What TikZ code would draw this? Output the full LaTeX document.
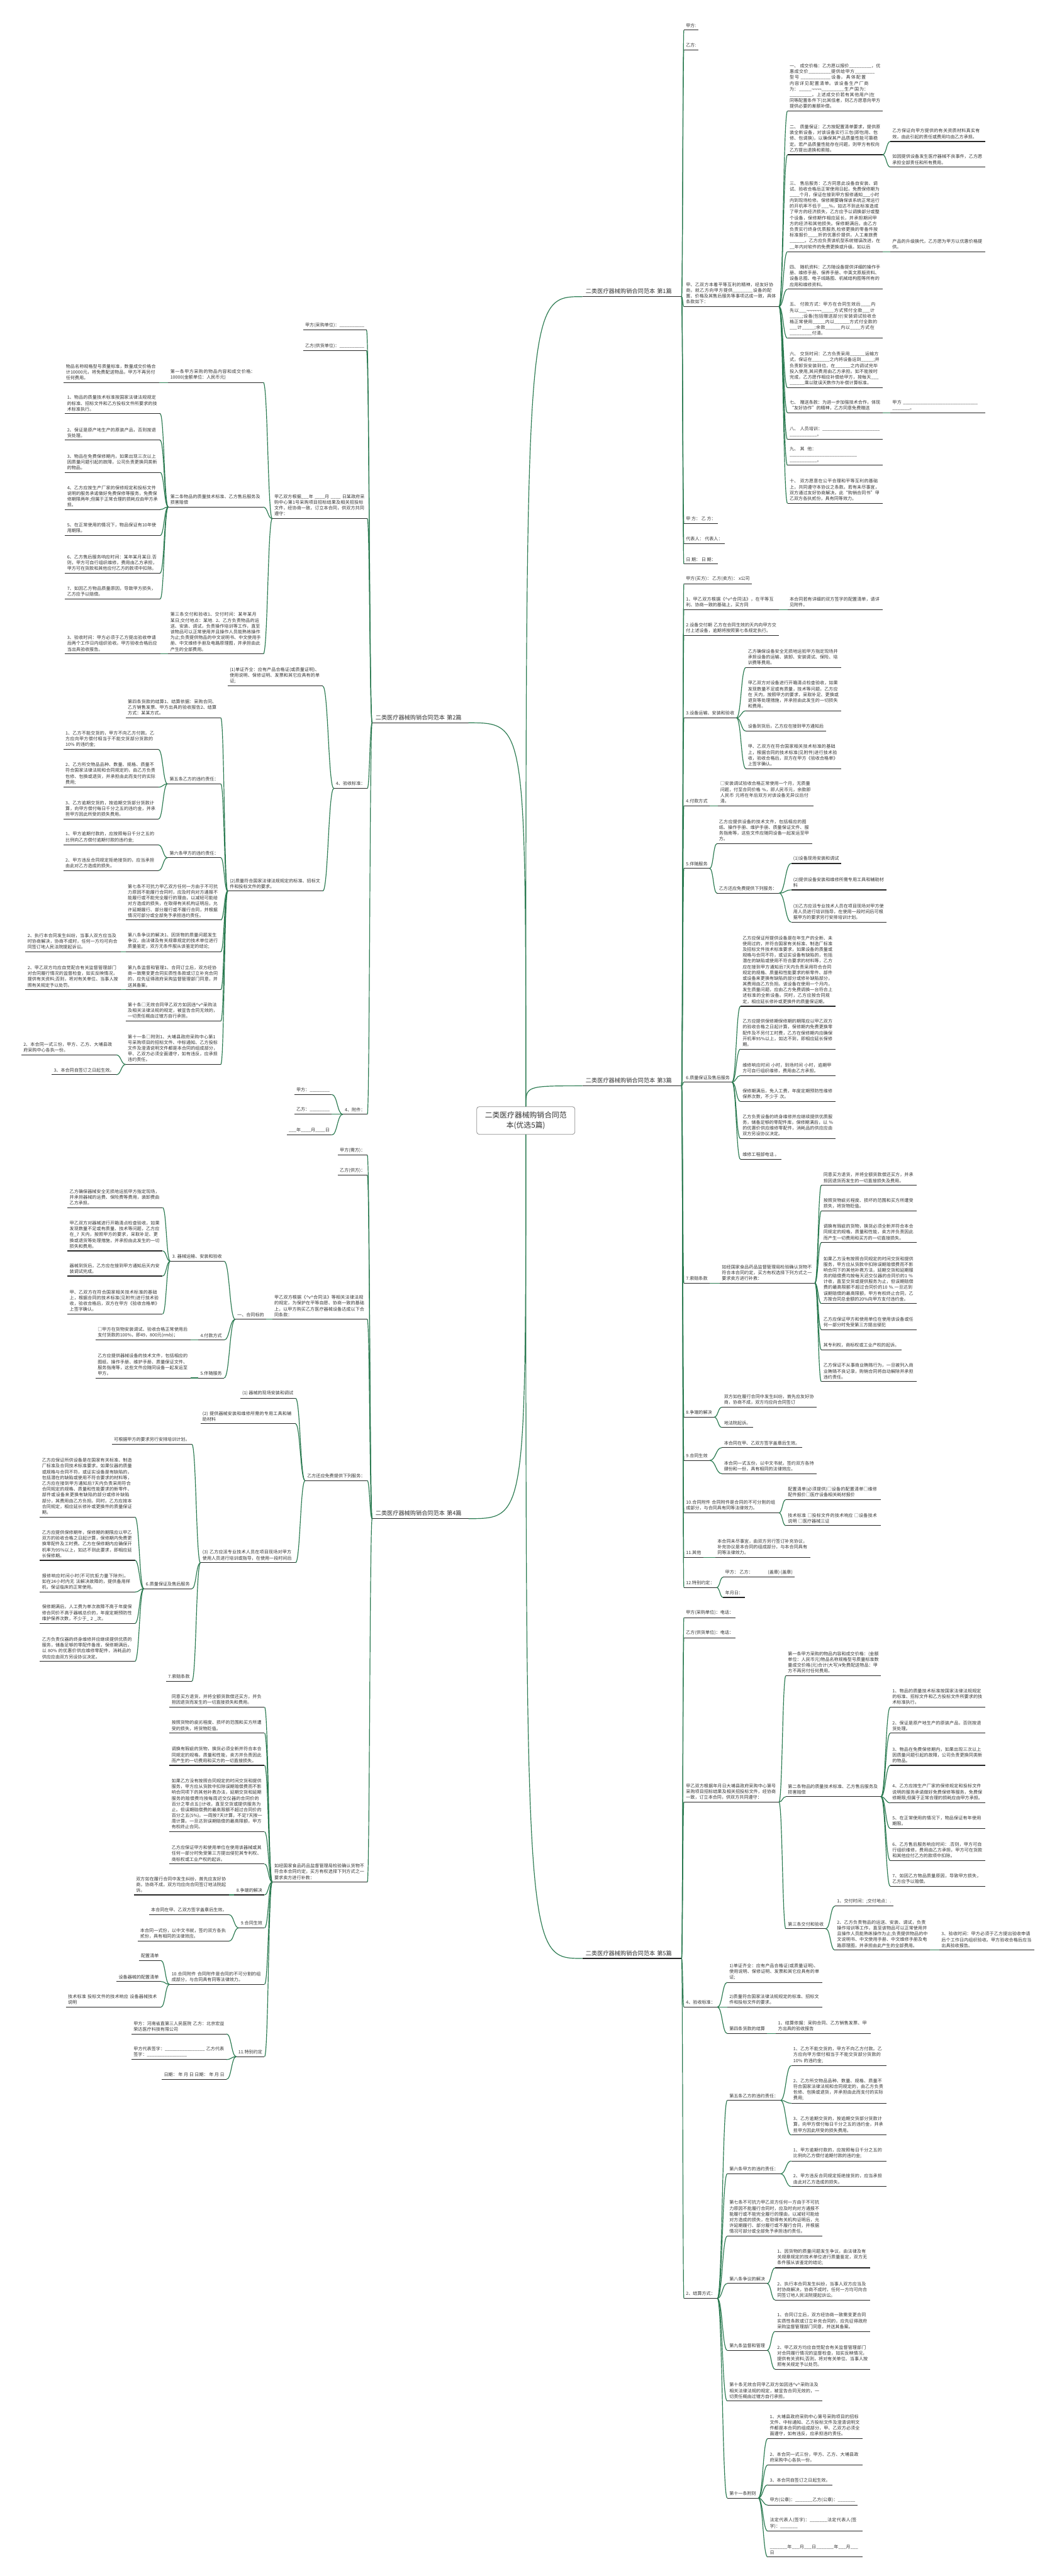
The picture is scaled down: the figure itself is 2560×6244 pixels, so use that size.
\documentclass[tikz,border=0pt]{standalone}
\usepackage{fontspec}
\setmainfont{Noto Sans CJK SC}
\XeTeXlinebreaklocale "zh"
\XeTeXlinebreakskip=0pt plus 1pt
\usetikzlibrary{calc}
\definecolor{linkgreen}{HTML}{2A7A50}
\definecolor{ulgray}{HTML}{262626}
\definecolor{txt}{HTML}{333333}
\definecolor{rootline}{HTML}{8C8C8C}
% connectors between underline ends
\newcommand{\rlink}[2]{\draw[link] let \p1=(#1.south east), \p2=(#2.south west) in (\p1) .. controls ({0.5*\x1+0.5*\x2},\y1) and ({0.5*\x1+0.5*\x2},\y2) .. (\p2);}
\newcommand{\llink}[2]{\draw[link] let \p1=(#1.south west), \p2=(#2.south east) in (\p1) .. controls ({0.5*\x1+0.5*\x2},\y1) and ({0.5*\x1+0.5*\x2},\y2) .. (\p2);}

\begin{document}
\catcode`\_=12
\begin{tikzpicture}[x=1pt, y=-1pt,
    leaf/.style={anchor=south west, inner xsep=5pt, inner ysep=6pt, align=left, text=txt,
      font=\fontsize{10.8}{14}\selectfont,
      append after command={(\tikzlastnode.south west) edge[uline] (\tikzlastnode.south east)}},
    lleaf/.style={leaf, anchor=south east},
    std/.style={text width=220pt},
    tw/.style={text width=#1pt},
    topic/.style={leaf, inner xsep=8pt, font=\fontsize{14}{17}\selectfont},
    uline/.style={draw=ulgray, line width=1.6pt},
    link/.style={draw=linkgreen, line width=1.8pt},
    root/.style={draw=rootline, line width=1.2pt, rounded corners=6pt, fill=white, text=txt,
      align=center, minimum width=238pt, minimum height=67pt, font=\fontsize{18}{24}\selectfont}]
  \useasboundingbox (0,0) rectangle (2560,6244);
  \fill[white] (0,0) rectangle (2560,6244);

  \node[root] (root) at (1274,2716) {二类医疗器械购销合同范\\本(优选5篇)};

  % ---------- 第1篇 ----------
  \node[topic, tw=224] (b1) at (1411,719) {二类医疗器械购销合同范本 第1篇};
  \node[leaf] (b1a) at (1657,73) {甲方:};
  \node[leaf] (b1b) at (1657,121) {乙方:};
  \node[leaf, std] (b1c) at (1657,743) {甲、乙双方本着平等互利的精神，经友好协商，就乙方向甲方提供________设备的配置、价格及其售后服务等事项达成一致，具体条款如下：};
  \node[leaf, std] (b1c1) at (1908,269) {一、 成交价格：乙方愿以报价_________，优惠成交价_________提供给甲方________型号 ____________设备，具体配置内容详见配置清单。该设备生产厂商为：_____¬¬¬¬_________生产国为：_________。上述成交价若有其他用户(在同等配置条件下)比其低者，则乙方愿意向甲方提供必要的差额补偿。};
  \node[leaf, std] (b1c2) at (1908,375) {二、 质量保证：乙方按配置清单要求，提供原装全新设备，对该设备实行三包(即包用、包修、包调换)，以确保其产品质量性能可靠稳定。若产品质量性能存在问题，则甲方有权向乙方提出退换和索赔。};
  \node[leaf, std] (b1c2a) at (2157,343) {乙方保证向甲方提供的有关资质材料真实有效，由此引起的责任或费用均由乙方承担。};
  \node[leaf, std] (b1c2b) at (2157,405) {如因提供设备发生医疗器械不良事件，乙方愿承担全部责任和所有费用。};
  \node[leaf, std] (b1c3) at (1908,610) {三、 售后服务：乙方同意此设备自安装、调试、验收合格后正常使用日起，免费保修期为____个月，保证在接到甲方报修通知___小时内到现场检修。保修期要确保该系统正常运行的开机率不低于___\%，如达不到此标准造成了甲方的经济损失，乙方应予以调换部分或整个设备，保修期作相应延长，并承担期间甲方的经济和其他损失。保修期满后，由乙方负责实行终身优质服务,检修更换的零备件按标准报价____折的优惠价提供，人工差旅费______。乙方应负责该机型系统错误改进，在__年内对软件的免费更换或升级。如以后};
  \node[leaf, std] (b1c3a) at (2157,610) {产品的升级换代，乙方愿为甲方以优惠价格提供。};
  \node[leaf, std] (b1c4) at (1908,701) {四、 随机资料：乙方随设备提供详细的操作手册、维修手册、保养手册、中英文原版资料、设备总图、电子线路图、机械结构图等所有的应用和维修资料。};
  \node[leaf, std] (b1c5) at (1908,820) {五、 付款方式：甲方在合同生效后____内先以___¬¬¬¬¬¬_____方式预付全款___计_____;设备(包括赠送部分)安装调试验收合格正常使用_____内以______方式付全款的___计_____;余款______内以____方式在_________付清。};
  \node[leaf, std] (b1c6) at (1908,940) {六、 交货时间：乙方负责采用______运输方式，保证在_______之内将设备运到_____;并负责卸货安装到位，在______之内调试完毕投入使用,其间费用由乙方承担。如不能按时完成，乙方愿作相应补偿给甲方，按每天___ ______乘以耽误天数作为补偿计算标准。};
  \node[leaf, std] (b1c7) at (1908,1001) {七、 赠送条款：为进一步加强技术合作，体现“友好协作”的精神，乙方同意免费赠送};
  \node[leaf, std] (b1c7a) at (2157,1001) {甲方 ______________________________ _______。};
  \node[leaf, std] (b1c8) at (1908,1065) {八、 人员培训：_______________________ ___________。};
  \node[leaf, std] (b1c9) at (1908,1128) {九、 其他：___________________________ ___________。};
  \node[leaf, std] (b1c10) at (1908,1220) {十、 双方愿意在公平合理和平等互利的基础上，共同遵守本协议之条款。若有未尽事宜，双方通过友好协商解决。此“购销合同书”甲乙双方各执贰份，具有同等效力。};
  \node[leaf] (b1d) at (1657,1269) {甲 方：~乙 方：};
  \node[leaf] (b1e) at (1657,1318) {代表人：~代表人：};
  \node[leaf] (b1f) at (1657,1367) {日 期：~日 期：};

  % ---------- 第3篇 ----------
  \node[topic, tw=224] (b3) at (1411,2632) {二类医疗器械购销合同范本 第3篇};
  \node[leaf] (b3a) at (1657,1415) {甲方(买方)：~乙方(卖方)：~x公司};
  \node[leaf, std] (b3b) at (1657,1478) {1、甲乙双方根据《\textasciicircum v\textasciicircum 合同法》，在平等互利、协商一致的基础上，买方同};
  \node[leaf, std] (b3b1) at (1908,1478) {本合同若有详细的双方签字的配置清单，请详见附件。};
  \node[leaf, std] (b3c) at (1657,1540) {2.设备交付期 乙方在合同生效的天内向甲方交付上述设备，逾期将按照第七条规定执行。};
  \node[leaf] (b3d) at (1657,1740) {3.设备运输、安装和验收};
  \node[leaf, std] (b3d1) at (1807,1618) {乙方确保设备安全无损地运抵甲方指定现场并承担设备的运输、装卸、安装调试、保险、培训费等费用。};
  \node[leaf, std] (b3d2) at (1807,1723) {甲乙双方对设备进行开箱清点检查验收，如果发现数量不足或有质量，技术等问题，乙方应在 天内，按照甲方的要求，采取补足、更换或退货等处理措施，并承担由此发生的一切损失和费用。};
  \node[leaf] (b3d3) at (1807,1772) {设备到货后，乙方应在接到甲方通知后};
  \node[leaf, std] (b3d4) at (1807,1863) {甲、乙双方在符合国家相关技术标准的基础上，根据合同的技术标准(见附件)进行技术验收，验收合格后，双方在甲方《验收合格单》上签字确认。};
  \node[leaf] (b3e) at (1657,1953) {4.付款方式};
  \node[leaf, std] (b3e1) at (1740,1953) {□安装调试验收合格正常使用一个月，无质量问题，付至合同价格 \%，即人民币元，余款即人民币 元将在年后双方对该设备无异议后付清。};
  \node[leaf] (b3f) at (1657,2105) {5.伴随服务};
  \node[leaf, std] (b3f1) at (1737,2045) {乙方应提供设备的技术文件，包括相应的图纸、操作手册、维护手册、质量保证文件、服务指南等，这些文件应随同设备一起发运至甲方。};
  \node[leaf] (b3f2) at (1737,2165) {乙方还应免费提供下列服务：};
  \node[leaf] (b3f2a) at (1917,2093) {(1)设备现场安装和调试};
  \node[leaf, std] (b3f2b) at (1917,2157) {(2)提供设备安装和维修所需专用工具和辅助材料};
  \node[leaf, std] (b3f2c) at (1917,2235) {(3)乙方应派专业技术人员在项目现场对甲方使用人员进行培训指导，在使用一段时间后可根据甲方的要求另行安排培训计划。};
  \node[leaf] (b3g) at (1657,2623) {6.质量保证及售后服务};
  \node[leaf, std] (b3g1) at (1794,2439) {乙方应保证所提供设备是在年生产的全新、未使用过的，并符合国家有关标准、制造厂标准及招标文件技术标准要求，如果设备的质量或规格与合同不符，或证实设备有缺陷的，包括潜在的缺陷或使用不符合要求的材料等，乙方应在接到甲方通知后7天内负责采用符合合同规定的规格、质量和性能要求的新零件、部件或设备来更换有缺陷的部分或修补缺陷部分，其费用由乙方负担。该设备在使用一个月内，发生质量问题，应由乙方免费调换一台符合上述标准的全新设备。同时，乙方应按合同规定，相应延长修补或更换件的质量保证期。};
  \node[leaf, std] (b3g2) at (1794,2543) {乙方应提供保修期保修期的期限应以甲乙双方的验收合格之日起计算，保修期内免费更换零配件及不另付工时费，乙方在保修期内应确保开机率95\%以上，如达不到，即相应延长保修期。};
  \node[leaf, std] (b3g3) at (1794,2607) {维修响应时间 小时，到场时间 小时，逾期甲方可自行组织维修，费用由乙方承担。};
  \node[leaf, std] (b3g4) at (1794,2670) {保修期满后，免人工费，年度定期预防性维修保养次数，不少于 次。};
  \node[leaf, std] (b3g5) at (1794,2760) {乙方负责设备的终身维修并应继续提供优质服务，储备足够的零配件库，保修期满后，以 \%的优惠价供应维修零配件，消耗品的供应应由双方另设协议决定。};
  \node[leaf] (b3g6) at (1794,2810) {维修工程部电话 。};
  \node[leaf] (b3h) at (1657,3110) {7.索赔条款};
  \node[leaf, std] (b3h1) at (1744,3110) {如经国家食品药品监督管理局检验确认货物不符合本合同约定，买方有权选择下列方式之一要求卖方进行补救：};
  \node[leaf, std] (b3h1a) at (1990,2873) {同意买方退货，并将全额货款偿还买方，并承担因退货而发生的一切直接损失及费用。};
  \node[leaf, std] (b3h1b) at (1990,2935) {按照货物疵劣程度、损坏的范围和买方所遭受损失，将货物贬值。};
  \node[leaf, std] (b3h1c) at (1990,3012) {调换有瑕疵的货物，换货必须全新并符合本合同规定的规格，质量和性能，卖方并负责因此而产生一切费用和买方的一切直接损失。};
  \node[leaf, std] (b3h1d) at (1990,3160) {如果乙方没有按照合同规定的时间交货和提供服务，甲方应从货款中扣除误期赔偿费而不影响合同下的其他补救方法，延期交货和延期服务的赔偿费均按每天迟交仪器的合同价的1 \%计收，直至交货或提供服务为止，但误期赔偿费的最高限额不超过合同价的10 \%.一旦达到误期赔偿的最高限额，甲方有权终止合同，乙方按合同总金额的20\%向甲方支付违约金。};
  \node[leaf, std] (b3h1e) at (1990,3223) {乙方应保证甲方和使用单位在使用该设备或任何一部分时免受第三方提出侵犯};
  \node[leaf] (b3h1f) at (1990,3272) {其专利权，商标权或工业产权的起诉。};
  \node[leaf, std] (b3h1g) at (1990,3349) {乙方保证不从事商业贿赂行为，一旦被列入商业贿赂不良记录，购销合同将自动解除并承担违约责任。};
  \node[leaf] (b3i) at (1657,3435) {8.争端的解决};
  \node[leaf, std] (b3i1) at (1749,3411) {双方如在履行合同中发生纠纷，首先应友好协商，协商不成，双方均应向合同签订};
  \node[leaf] (b3i2) at (1749,3460) {地法院起诉。};
  \node[leaf] (b3j) at (1657,3540) {9.合同生效};
  \node[leaf] (b3j1) at (1749,3509) {本合同在甲、乙双方签字盖章后生效。};
  \node[leaf, std] (b3j2) at (1749,3572) {本合同一式五份，以中文书就，签约双方各持肆份和一份，具有相同的法律效应。};
  \node[leaf, std] (b3k) at (1657,3667) {10.合同附件 合同附件是合同的不可分割的组成部分，与合同具有同等法律效力。};
  \node[leaf, std] (b3k1) at (1904,3635) {配置清单(必须提供)□设备的配置清单□维修配件报价□医疗设备相关耗材报价};
  \node[leaf, std] (b3k2) at (1904,3698) {技术标准 □投标文件的技术响应 □设备技术说明 □医疗器械三证};
  \node[leaf] (b3l) at (1657,3775) {11.其他};
  \node[leaf, std] (b3l1) at (1733,3775) {本合同未尽事宜，由双方另行签订补充协议，补充协议是本合同的组成部分，与本合同具有同等法律效力。};
  \node[leaf] (b3m) at (1657,3848) {12.特别约定：};
  \node[leaf] (b3m1) at (1752,3823) {甲方：~乙方：\hspace{36pt}(盖章) (盖章)};
  \node[leaf] (b3m2) at (1752,3872) {年月日：};

  % ---------- 第5篇 ----------
  \node[topic, tw=224] (b5) at (1411,4747) {二类医疗器械购销合同范本 第5篇};
  \node[leaf] (b5a) at (1657,3921) {甲方(采购单位)：电话：};
  \node[leaf] (b5b) at (1657,3970) {乙方(供货单位)：电话：};
  \node[leaf, std] (b5c) at (1657,4368) {甲乙双方根据年月日大埔县政府采购中心第号采购项目招标结果及相关招投标文件，经协商一致，订立本合同，供双方共同遵守：};
  \node[leaf, std] (b5c1) at (1904,4062) {第一条甲方采购的物品内容和成交价格：(金额单位：人民币元)物品名称规格型号质量标准数量成交价格(元)合计(大写)¥免费配送物品：甲方不再另付任何费用。};
  \node[leaf, std] (b5c2) at (1904,4355) {第二条物品的质量技术标准、乙方售后服务及损害赔偿};
  \node[leaf, std] (b5c2a) at (2157,4138) {1、物品的质量技术标准按国家法律法规规定的标准、招标文件和乙方投标文件所要求的技术标准执行。};
  \node[leaf, std] (b5c2b) at (2157,4201) {2、保证是原产地生产的原装产品，否则按退货处理。};
  \node[leaf, std] (b5c2c) at (2157,4279) {3、物品在免费保修期内，如果出现三次以上因质量问题引起的故障，公司负责更换同类新的物品。};
  \node[leaf, std] (b5c2d) at (2157,4370) {4、乙方应按生产厂家的保修规定和投标文件说明的服务承诺做好免费保修等服务，免费保修期限;但属于正常合理的损耗应由甲方承担。};
  \node[leaf, std] (b5c2e) at (2157,4432) {5、在正常使用的情况下，物品保证有年使用期限。};
  \node[leaf, std] (b5c2f) at (2157,4510) {6、乙方售后服务响应时间：.否则，甲方可自行组织维修，费用由乙方承担，甲方可在货款和其他应付乙方的款项中扣除。};
  \node[leaf, std] (b5c2g) at (2157,4572) {7、如因乙方物品质量原因，导致甲方损失，乙方应予以赔偿。};
  \node[leaf] (b5c3) at (1904,4675) {第三条交付和验收};
  \node[leaf] (b5c3a) at (2023,4620) {1、交付时间：;交付地点：.};
  \node[leaf, std] (b5c3b) at (2023,4727) {2、乙方负责物品的运送、安装、调试，负责操作培训等工作，直至该物品可以正常使用并且操作人员能熟练操作为止;负责提供物品的中文说明书、中文使用手册、中文维修手册及电路原理图，并承担由此产生的全部费用。};
  \node[leaf, std] (b5c3b1) at (2276,4727) {3、验收时间：甲方必须于乙方提出验收申请后个工作日内组织验收。甲方验收合格后应当出具验收报告。};
  \node[leaf] (b5d) at (1657,4865) {4、验收标准：};
  \node[leaf, std] (b5d1) at (1762,4805) {1)单证齐全：应有产品合格证(或质量证明)、使用说明、保修证明、发票和其它应具有的单证;};
  \node[leaf, std] (b5d2) at (1762,4865) {2)质量符合国家法律法规规定的标准、招标文件和投标文件的要求。};
  \node[leaf] (b5d3) at (1762,4929) {第四条货款的结算};
  \node[leaf, std] (b5d3a) at (1880,4929) {1、结算依据：采购合同、乙方销售发票、甲方出具的验收报告};
  \node[leaf] (b5e) at (1657,5571) {2、结算方式：};
  \node[leaf] (b5e1) at (1762,5091) {第五条乙方的违约责任：};
  \node[leaf, std] (b5e1a) at (1917,5007) {1、乙方不能交货的，甲方不向乙方付款。乙方应向甲方偿付相当于不能交货部分货款的10\% 的违约金;};
  \node[leaf, std] (b5e1b) at (1917,5098) {2、乙方所交物品品种、数量、规格、质量不符合国家法律法规和合同规定的，由乙方负责包修、包换或退货，并承担由此而支付的实际费用;};
  \node[leaf, std] (b5e1c) at (1917,5175) {3、乙方逾期交货的，按逾期交货部分货款计算，向甲方偿付每日千分之五的违约金，并承担甲方因此所受的损失费用。};
  \node[leaf] (b5e2) at (1762,5269) {第六条甲方的违约责任：};
  \node[leaf, std] (b5e2a) at (1917,5238) {1、甲方逾期付款的，应按照每日千分之五的比例向乙方偿付逾期付款的违约金;};
  \node[leaf, std] (b5e2b) at (1917,5300) {2、甲方违反合同规定拒绝接货的，应当承担由此对乙方造成的损失。};
  \node[leaf, std] (b5e3) at (1762,5420) {第七条不可抗力甲乙双方任何一方由于不可抗力原因不能履行合同时，应及时向对方通报不能履行或不能完全履行的理由，以减轻可能给对方造成的损失，在取得有关机构证明后，允许延期履行、部分履行或不履行合同，并根据情况可部分或全部免予承担违约责任。};
  \node[leaf] (b5e4) at (1762,5535) {第八条争议的解决};
  \node[leaf, std] (b5e4a) at (1878,5497) {1、因货物的质量问题发生争议，由法律及有关规章规定的技术单位进行质量鉴定，双方无条件服从该鉴定的结论;};
  \node[leaf, std] (b5e4b) at (1878,5575) {2、执行本合同发生纠纷，当事人双方应当及时协商解决，协商不成时，任何一方均可向合同签订地人民法院提起诉讼。};
  \node[leaf] (b5e5) at (1762,5697) {第九条监督和管理};
  \node[leaf, std] (b5e5a) at (1878,5651) {1、合同订立后，双方经协商一致需变更合同实质性条款或订立补充合同的，应先征得政府采购监督管理部门同意，并送其备案。};
  \node[leaf, std] (b5e5b) at (1878,5743) {2、甲乙双方均应自觉配合有关监督管理部门对合同履行情况的监督检查，如实反映情况，提供有关资料;否则，将对有关单位、当事人按照有关规定予以处罚。};
  \node[leaf, std] (b5e6) at (1762,5820) {第十条无效合同甲乙双方如因违\textasciicircum v\textasciicircum 采购法及相关法律法规的规定，被宣告合同无效的，一切责任概由过错方自行承担。};
  \node[leaf] (b5e7) at (1762,6055) {第十一条附则};
  \node[leaf, std] (b5e7a) at (1860,5911) {1、大埔县政府采购中心第号采购项目的招标文件、中标通知、乙方投标文件及澄清说明文件都是本合同的组成部分，甲、乙双方必须全面遵守，如有违反，应承担违约责任。};
  \node[leaf, std] (b5e7b) at (1860,5975) {2、本合同一式三份，甲方、乙方、大埔县政府采购中心各执一份。};
  \node[leaf] (b5e7c) at (1860,6023) {3、本合同自签订之日起生效。};
  \node[leaf] (b5e7d) at (1860,6072) {甲方(公章)：_______乙方(公章)：_______};
  \node[leaf, std] (b5e7e) at (1860,6135) {法定代表人(签字)：_______法定代表人(签字)：_______};
  \node[leaf, std] (b5e7f) at (1860,6198) {_______年___月___日_______年___月___日};

  % ---------- 第2篇 ----------
  \node[topic, anchor=south east, tw=217] (b2) at (1135,1752) {二类医疗器械购销合同范本 第2篇};
  \node[lleaf] (b2x1) at (888,800) {甲方(采购单位)：__________};
  \node[lleaf] (b2x2) at (888,850) {乙方(供货单位)：__________};
  \node[lleaf, std] (b2a) at (890,1257) {甲乙双方根据___年 ____月 ____ 日某政府采购中心第1号采购项目招标结果及相关招投标文件，经协商一致，订立本合同，供双方共同遵守：};
  \node[lleaf, std] (b2a1) at (638,927) {第一条甲方采购的物品内容和成交价格：10000(金额单位：人民币元)};
  \node[lleaf, std] (b2a1a) at (385,927) {物品名称规格型号质量标准，数量成交价格合计10000元，将免费配送物品，甲方不再另付任何费用。};
  \node[lleaf, std] (b2a2) at (638,1229) {第二条物品的质量技术标准、乙方售后服务及损害赔偿};
  \node[lleaf, std] (b2a2a) at (388,1003) {1、物品的质量技术标准按国家法律法规规定的标准、招标文件和乙方投标文件所要求的技术标准执行。};
  \node[lleaf, std] (b2a2b) at (388,1067) {2、保证是原产地生产的原装产品，否则按退货处理。};
  \node[lleaf, std] (b2a2c) at (388,1145) {3、物品在免费保修期内，如果出现三次以上因质量问题引起的故障，公司负责更换同类新的物品。};
  \node[lleaf, std] (b2a2d) at (388,1235) {4、乙方应按生产厂家的保修规定和投标文件说明的服务承诺做好免费保修等服务，免费保修期限两年;但属于正常合理的损耗应由甲方承担。};
  \node[lleaf, std] (b2a2e) at (388,1298) {5、在正常使用的情况下，物品保证有10年使用期限。};
  \node[lleaf, std] (b2a2f) at (388,1389) {6、乙方售后服务响应时间：某年某月某日.否则，甲方可自行组织维修，费用由乙方承担，甲方可在货款和其他应付乙方的款项中扣除。};
  \node[lleaf, std] (b2a2g) at (388,1452) {7、如因乙方物品质量原因，导致甲方损失，乙方应予以赔偿。};
  \node[lleaf, std] (b2a3) at (638,1585) {第三条交付和验收1、交付时间：某年某月某日;交付地点：某地. 2、乙方负责物品的运送、安装、调试，负责操作培训等工作，直至该物品可以正常使用并且操作人员能熟练操作为止;负责提供物品的中文说明书、中文使用手册、中文维修手册及电路原理图，并承担由此产生的全部费用。};
  \node[lleaf, std] (b2a3a) at (388,1585) {3、验收时间：甲方必须于乙方提出验收申请后两个工作日内组织验收。甲方验收合格后应当出具验收报告。};
  \node[lleaf] (b2b) at (890,1911) {4、验收标准：};
  \node[lleaf, std] (b2b1) at (782,1663) {(1)单证齐全：应有产品合格证(或质量证明)、使用说明、保修证明、发票和其它应具有的单证;};
  \node[lleaf, std] (b2b2) at (782,2160) {(2)质量符合国家法律法规规定的标准、招标文件和投标文件的要求。};
  \node[lleaf, std] (b2b2a) at (535,1740) {第四条货款的结算1、结算依据：采购合同、乙方销售发票、甲方出具的验收报告2、结算方式：某某方式。};
  \node[lleaf] (b2b2b) at (535,1900) {第五条乙方的违约责任：};
  \node[lleaf, std] (b2b2b1) at (384,1817) {1、乙方不能交货的，甲方不向乙方付款。乙方应向甲方偿付相当于不能交货部分货款的10\% 的违约金;};
  \node[lleaf, std] (b2b2b2) at (384,1908) {2、乙方所交物品品种、数量、规格、质量不符合国家法律法规和合同规定的，由乙方负责包修、包换或退货，并承担由此而支付的实际费用;};
  \node[lleaf, std] (b2b2b3) at (384,1985) {3、乙方逾期交货的，按逾期交货部分货款计算，向甲方偿付每日千分之五的违约金，并承担甲方因此所受的损失费用。};
  \node[lleaf] (b2b2c) at (535,2079) {第六条甲方的违约责任：};
  \node[lleaf, std] (b2b2c1) at (384,2048) {1、甲方逾期付款的，应按照每日千分之五的比例向乙方偿付逾期付款的违约金;};
  \node[lleaf, std] (b2b2c2) at (384,2110) {2、甲方违反合同规定拒绝接货的，应当承担由此对乙方造成的损失。};
  \node[lleaf, std] (b2b2d) at (535,2230) {第七条不可抗力甲乙双方任何一方由于不可抗力原因不能履行合同时，应及时向对方通报不能履行或不能完全履行的理由，以减轻可能给对方造成的损失，在取得有关机构证明后，允许延期履行、部分履行或不履行合同，并根据情况可部分或全部免予承担违约责任。};
  \node[lleaf, std] (b2b2e) at (535,2307) {第八条争议的解决1、因货物的质量问题发生争议，由法律及有关规章规定的技术单位进行质量鉴定，双方无条件服从该鉴定的结论;};
  \node[lleaf, std] (b2b2e1) at (292,2307) {2、执行本合同发生纠纷，当事人双方应当及时协商解决，协商不成时，任何一方均可向合同签订地人民法院提起诉讼。};
  \node[lleaf, std] (b2b2f) at (535,2399) {第九条监督和管理1、合同订立后，双方经协商一致需变更合同实质性条款或订立补充合同的，应先征得政府采购监督管理部门同意，并送其备案。};
  \node[lleaf, std] (b2b2f1) at (292,2399) {2、甲乙双方均应自觉配合有关监督管理部门对合同履行情况的监督检查，如实反映情况，提供有关资料;否则，将对有关单位、当事人按照有关规定予以处罚。};
  \node[lleaf, std] (b2b2g) at (535,2475) {第十条□无效合同甲乙双方如因违\textasciicircum v\textasciicircum 采购法及相关法律法规的规定，被宣告合同无效的，一切责任概由过错方自行承担。};
  \node[lleaf, std] (b2b2h) at (535,2580) {第十一条□附则1、大埔县政府采购中心第1号采购项目的招标文件、中标通知、乙方投标文件及澄清说明文件都是本合同的组成部分，甲、乙双方必须全面遵守，如有违反，应承担违约责任。};
  \node[lleaf, std] (b2b2h1) at (282,2557) {2、本合同一式三份，甲方、乙方、大埔县政府采购中心各执一份。};
  \node[lleaf] (b2b2h2) at (282,2605) {3、本合同自签订之日起生效。};
  \node[lleaf] (b2c) at (890,2701) {4、附件：};
  \node[lleaf] (b2c1) at (804,2653) {甲方：________};
  \node[lleaf] (b2c2) at (804,2701) {乙方：________};
  \node[lleaf] (b2c3) at (804,2751) {___年____月____日};

  % ---------- 第4篇 ----------
  \node[topic, anchor=south east, tw=217] (b4) at (1135,3681) {二类医疗器械购销合同范本 第4篇};
  \node[lleaf] (b4a) at (890,2800) {甲方(需方)：};
  \node[lleaf] (b4b) at (890,2849) {乙方(供方)：};
  \node[lleaf, std] (b4c) at (890,3198) {甲乙双方根据《\textasciicircum v\textasciicircum 合同法》等相关法律法规的规定，为保护在平等自愿、协商一致的基础上，以甲方购买乙方医疗器械设备达成以下合同条款：};
  \node[lleaf] (b4c1) at (645,3198) {一、合同标的};
  \node[lleaf] (b4c1a) at (543,3057) {3. 器械运输、安装和验收};
  \node[lleaf, std] (b4c1a1) at (394,2927) {乙方确保器械安全无损地运抵甲方指定现场，并承担器械的运费、保险费等费用，装卸费由乙方承担。};
  \node[lleaf, std] (b4c1a2) at (394,3032) {甲乙双方对器械进行开箱清点检查验收，如果发现数量不足或有质量、技术等问题，乙方应在_7 天内，按照甲方的要求，采取补足、更换或退货等处理措施，并承担由此发生的一切损失和费用。};
  \node[lleaf, std] (b4c1a3) at (394,3093) {器械到货后，乙方应在接到甲方通知后天内安装调试完成。};
  \node[lleaf, std] (b4c1a4) at (394,3185) {甲、乙双方在符合国家相关技术标准的基础上，根据合同的技术标准(见附件)进行技术验收，验收合格后，双方在甲方《验收合格单》上签字确认。};
  \node[lleaf] (b4c1b) at (543,3248) {4.付款方式};
  \node[lleaf, std] (b4c1b1) at (462,3248) {□甲方在货物安装调试、验收合格正常使用后支付货款的100\%，即49，800元(rmb)；};
  \node[lleaf] (b4c1c) at (543,3340) {5.伴随服务};
  \node[lleaf, std] (b4c1c1) at (462,3340) {乙方应提供器械设备的技术文件，包括相应的图纸、操作手册、维护手册、质量保证文件、服务指南等，这些文件应随同设备一起发运至甲方。};
  \node[lleaf] (b4d) at (890,3589) {乙方还应免费提供下列服务：};
  \node[lleaf] (b4d1) at (716,3389) {(1) 器械的现场安装和调试};
  \node[lleaf, std] (b4d2) at (716,3451) {(2) 提供器械安装和维修所需的专用工具和辅助材料};
  \node[lleaf, std] (b4d3) at (716,3788) {(3) 乙方应派专业技术人员在项目现场对甲方使用人员进行培训或指导，在使用一段时间后};
  \node[lleaf] (b4d3a) at (465,3501) {可根据甲方的要求另行安排培训计划。};
  \node[lleaf] (b4d3b) at (465,3851) {6.质量保证及售后服务};
  \node[lleaf, std] (b4d3b1) at (327,3677) {乙方应保证所供设备是在国家有关标准、制造厂标准及合同技术标准要求。如果仪器的质量或规格与合同不符，或证实设备是有缺陷的，包括潜在的缺陷或使用不符合要求的材料等，乙方应在接到甲方通知后7天内负责采用符合合同规定的规格、质量和性能要求的新零件、部件或设备来更换有缺陷的部分或修补缺陷部分，其费用由乙方负担。同时，乙方应按本合同规定，相应延长修补或更换件的质量保证期。};
  \node[lleaf, std] (b4d3b2) at (327,3782) {乙方应提供保修期年，保修期的期限应以甲乙双方的验收合格之日起计算，保修期内免费更换零配件及工时费。乙方在保修期内应确保开机率为95\%以上，如达不到此要求，即相应延长保修期。};
  \node[lleaf, std] (b4d3b3) at (327,3859) {报修响应时间小时(不可抗拒力量下除外)。如在24小时内无 法解决故障的，提供备用样机，保证临床的正常使用。};
  \node[lleaf, std] (b4d3b4) at (327,3935) {保修期满后，人工费为单次故障不高于年度保修合同价不高于器械总价的，年度定期预防性维护保养次数，不少于_ 2 _次。};
  \node[lleaf, std] (b4d3b5) at (327,4027) {乙方负责仪器的终身维修并应继续提供优质的服务，储备足够的零配件备库，保修期满后，以 80\% 的优惠价供应维修零配件，消耗品的供应应由双方另设协议决定。};
  \node[lleaf] (b4d3c) at (465,4075) {7.索赔条款};
  \node[lleaf, std] (b4e) at (890,4562) {如经国家食品药品监督管理局检验确认货物不符合本合同约定，买方有权选择下列方式之一要求卖方进行补救：};
  \node[lleaf, std] (b4e1) at (641,4138) {同意买方退货，并将全额货款偿还买方，并负担因退货而发生的一切直接损失和费用。};
  \node[lleaf, std] (b4e2) at (641,4201) {按照货物的疵劣程度、损坏的范围和买方所遭受的损失，将货物贬值。};
  \node[lleaf, std] (b4e3) at (641,4279) {调换有瑕疵的货物，换货必须全新并符合本合同规定的规格，质量和性能，卖方并负责因此而产生的一切费用和买方的一切直接损失。};
  \node[lleaf, std] (b4e4) at (641,4440) {如果乙方没有按照合同规定的时间交货和提供服务，甲方应从货款中扣除误期赔偿费而不影响合同项下的其他补救办法，延期交货和延期服务的赔偿费均按每周迟交仪器的合同价的百分之零点五()计收，直至交货或提供服务为止。但误期赔偿费的最高限额不超过合同价的百分之五(5\%)。一周按7天计算，不足7天按一周计算。一旦达到误期赔偿的最高限额，甲方有权终止合同。};
  \node[lleaf, std] (b4e5) at (641,4518) {乙方应保证甲方和使用单位在使用该器械或其任何一部分时免受第三方提出侵犯其专利权、商标权或工业产权的起诉。};
  \node[lleaf] (b4e6) at (641,4593) {8.争端的解决};
  \node[lleaf, std] (b4e6a) at (555,4593) {双方如在履行合同中发生纠纷，首先应友好协商，协商不成，双方均应向合同签订地法院起诉。};
  \node[lleaf] (b4e7) at (641,4673) {9.合同生效};
  \node[lleaf] (b4e7a) at (555,4641) {本合同在甲、乙双方签字盖章后生效。};
  \node[lleaf, tw=210] (b4e7b) at (555,4705) {本合同一式份，以中文书就，签约双方各执贰份，具有相同的法律效应。};
  \node[lleaf, std] (b4e8) at (641,4810) {10.合同附件 合同附件是合同的不可分割的组成部分，与合同具有同等法律效力。};
  \node[lleaf] (b4e8a) at (390,4752) {配置清单};
  \node[lleaf] (b4e8b) at (390,4803) {设备器械的配置清单};
  \node[lleaf, std] (b4e8c) at (390,4865) {技术标准 投标文件的技术响应 设备器械技术说明};
  \node[lleaf] (b4e9) at (641,4985) {11.特别约定};
  \node[lleaf, std] (b4e9a) at (549,4930) {甲方：河南省直第三人民医院 乙方：北京宏益荣达医疗科技有限公司};
  \node[lleaf, std] (b4e9b) at (549,4992) {甲方代表签字：________________ 乙方代表签字：________________};
  \node[lleaf] (b4e9c) at (549,5040) {日期：~年 月 日 日期：~年 月 日};

  % ---------- connectors ----------
  \draw[link] (root.north) .. controls (root.north |- b1.south west) .. (b1.south west);
  \draw[link] (root.north) .. controls (root.north |- b2.south east) .. (b2.south east);
  \draw[link] (root.north) .. controls (root.north |- b3.south west) .. (b3.south west);
  \draw[link] (root.south) .. controls (root.south |- b4.south east) .. (b4.south east);
  \draw[link] (root.south) .. controls (root.south |- b5.south west) .. (b5.south west);

  \rlink{b1}{b1a} \rlink{b1}{b1b} \rlink{b1}{b1c} \rlink{b1}{b1d} \rlink{b1}{b1e} \rlink{b1}{b1f}
  \rlink{b1c}{b1c1} \rlink{b1c}{b1c2} \rlink{b1c}{b1c3} \rlink{b1c}{b1c4} \rlink{b1c}{b1c5}
  \rlink{b1c}{b1c6} \rlink{b1c}{b1c7} \rlink{b1c}{b1c8} \rlink{b1c}{b1c9} \rlink{b1c}{b1c10}
  \rlink{b1c2}{b1c2a} \rlink{b1c2}{b1c2b} \rlink{b1c3}{b1c3a} \rlink{b1c7}{b1c7a}

  \rlink{b3}{b3a} \rlink{b3}{b3b} \rlink{b3}{b3c} \rlink{b3}{b3d} \rlink{b3}{b3e} \rlink{b3}{b3f} \rlink{b3}{b3g}
  \rlink{b3}{b3h} \rlink{b3}{b3i} \rlink{b3}{b3j} \rlink{b3}{b3k} \rlink{b3}{b3l} \rlink{b3}{b3m}
  \rlink{b3b}{b3b1}
  \rlink{b3d}{b3d1} \rlink{b3d}{b3d2} \rlink{b3d}{b3d3} \rlink{b3d}{b3d4}
  \rlink{b3e}{b3e1} \rlink{b3f}{b3f1} \rlink{b3f}{b3f2}
  \rlink{b3f2}{b3f2a} \rlink{b3f2}{b3f2b} \rlink{b3f2}{b3f2c}
  \rlink{b3g}{b3g1} \rlink{b3g}{b3g2} \rlink{b3g}{b3g3} \rlink{b3g}{b3g4} \rlink{b3g}{b3g5} \rlink{b3g}{b3g6}
  \rlink{b3h}{b3h1}
  \rlink{b3h1}{b3h1a} \rlink{b3h1}{b3h1b} \rlink{b3h1}{b3h1c} \rlink{b3h1}{b3h1d}
  \rlink{b3h1}{b3h1e} \rlink{b3h1}{b3h1f} \rlink{b3h1}{b3h1g}
  \rlink{b3i}{b3i1} \rlink{b3i}{b3i2} \rlink{b3j}{b3j1} \rlink{b3j}{b3j2}
  \rlink{b3k}{b3k1} \rlink{b3k}{b3k2} \rlink{b3l}{b3l1} \rlink{b3m}{b3m1} \rlink{b3m}{b3m2}

  \rlink{b5}{b5a} \rlink{b5}{b5b} \rlink{b5}{b5c} \rlink{b5}{b5d} \rlink{b5}{b5e}
  \rlink{b5c}{b5c1} \rlink{b5c}{b5c2} \rlink{b5c}{b5c3}
  \rlink{b5c2}{b5c2a} \rlink{b5c2}{b5c2b} \rlink{b5c2}{b5c2c} \rlink{b5c2}{b5c2d}
  \rlink{b5c2}{b5c2e} \rlink{b5c2}{b5c2f} \rlink{b5c2}{b5c2g}
  \rlink{b5c3}{b5c3a} \rlink{b5c3}{b5c3b} \rlink{b5c3b}{b5c3b1}
  \rlink{b5d}{b5d1} \rlink{b5d}{b5d2} \rlink{b5d}{b5d3} \rlink{b5d3}{b5d3a}
  \rlink{b5e}{b5e1} \rlink{b5e}{b5e2} \rlink{b5e}{b5e3} \rlink{b5e}{b5e4} \rlink{b5e}{b5e5} \rlink{b5e}{b5e6} \rlink{b5e}{b5e7}
  \rlink{b5e1}{b5e1a} \rlink{b5e1}{b5e1b} \rlink{b5e1}{b5e1c}
  \rlink{b5e2}{b5e2a} \rlink{b5e2}{b5e2b}
  \rlink{b5e4}{b5e4a} \rlink{b5e4}{b5e4b} \rlink{b5e5}{b5e5a} \rlink{b5e5}{b5e5b}
  \rlink{b5e7}{b5e7a} \rlink{b5e7}{b5e7b} \rlink{b5e7}{b5e7c} \rlink{b5e7}{b5e7d} \rlink{b5e7}{b5e7e} \rlink{b5e7}{b5e7f}

  \llink{b2}{b2x1} \llink{b2}{b2x2} \llink{b2}{b2a} \llink{b2}{b2b} \llink{b2}{b2c}
  \llink{b2a}{b2a1} \llink{b2a}{b2a2} \llink{b2a}{b2a3}
  \llink{b2a1}{b2a1a}
  \llink{b2a2}{b2a2a} \llink{b2a2}{b2a2b} \llink{b2a2}{b2a2c} \llink{b2a2}{b2a2d}
  \llink{b2a2}{b2a2e} \llink{b2a2}{b2a2f} \llink{b2a2}{b2a2g}
  \llink{b2a3}{b2a3a}
  \llink{b2b}{b2b1} \llink{b2b}{b2b2}
  \llink{b2b2}{b2b2a} \llink{b2b2}{b2b2b} \llink{b2b2}{b2b2c} \llink{b2b2}{b2b2d}
  \llink{b2b2}{b2b2e} \llink{b2b2}{b2b2f} \llink{b2b2}{b2b2g} \llink{b2b2}{b2b2h}
  \llink{b2b2b}{b2b2b1} \llink{b2b2b}{b2b2b2} \llink{b2b2b}{b2b2b3}
  \llink{b2b2c}{b2b2c1} \llink{b2b2c}{b2b2c2}
  \llink{b2b2e}{b2b2e1} \llink{b2b2f}{b2b2f1}
  \llink{b2b2h}{b2b2h1} \llink{b2b2h}{b2b2h2}
  \llink{b2c}{b2c1} \llink{b2c}{b2c2} \llink{b2c}{b2c3}

  \llink{b4}{b4a} \llink{b4}{b4b} \llink{b4}{b4c} \llink{b4}{b4d} \llink{b4}{b4e}
  \llink{b4c}{b4c1}
  \llink{b4c1}{b4c1a} \llink{b4c1}{b4c1b} \llink{b4c1}{b4c1c}
  \llink{b4c1a}{b4c1a1} \llink{b4c1a}{b4c1a2} \llink{b4c1a}{b4c1a3} \llink{b4c1a}{b4c1a4}
  \llink{b4c1b}{b4c1b1} \llink{b4c1c}{b4c1c1}
  \llink{b4d}{b4d1} \llink{b4d}{b4d2} \llink{b4d}{b4d3}
  \llink{b4d3}{b4d3a} \llink{b4d3}{b4d3b} \llink{b4d3}{b4d3c}
  \llink{b4d3b}{b4d3b1} \llink{b4d3b}{b4d3b2} \llink{b4d3b}{b4d3b3} \llink{b4d3b}{b4d3b4} \llink{b4d3b}{b4d3b5}
  \llink{b4e}{b4e1} \llink{b4e}{b4e2} \llink{b4e}{b4e3} \llink{b4e}{b4e4} \llink{b4e}{b4e5}
  \llink{b4e}{b4e6} \llink{b4e}{b4e7} \llink{b4e}{b4e8} \llink{b4e}{b4e9}
  \llink{b4e6}{b4e6a} \llink{b4e7}{b4e7a} \llink{b4e7}{b4e7b}
  \llink{b4e8}{b4e8a} \llink{b4e8}{b4e8b} \llink{b4e8}{b4e8c}
  \llink{b4e9}{b4e9a} \llink{b4e9}{b4e9b} \llink{b4e9}{b4e9c}
\end{tikzpicture}
\end{document}
